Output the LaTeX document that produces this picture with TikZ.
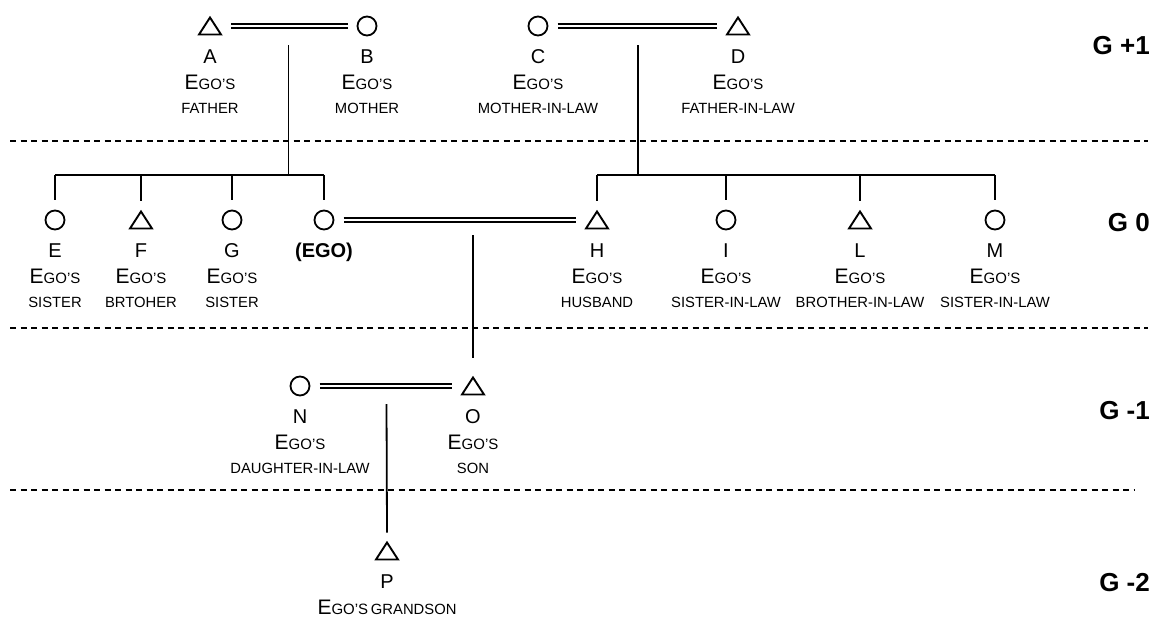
\documentclass[tikz,border=0pt]{standalone}
\usepackage{fontspec}
\setmainfont{Liberation Sans}
\usetikzlibrary{calc}

% "Ego's" written in small capitals
\newcommand\egotag{{\fontsize{21}{21}\selectfont E}{\fontsize{15}{15}\selectfont GO’S}}
\newcommand\relsc[1]{{\fontsize{14.8}{14.8}\selectfont #1}}

\tikzset{
  female/.style={circle, draw, line width=1.8pt, minimum size=19pt, inner sep=0pt, outer sep=0pt},
  male/.style={rectangle, minimum width=22pt, minimum height=17pt, inner sep=0pt, outer sep=0pt},
  maleshape/.style={line width=1.9pt, line join=miter},
  marriage/.style={double, double distance=2.6pt, line width=1.3pt, shorten <=10pt, shorten >=10pt},
  descent/.style={line width=1.8pt},
  genline/.style={line width=1.1pt, dash pattern=on 6pt off 4.5pt},
  idtext/.style={anchor=base, inner sep=0pt, font=\fontsize{20}{20}\selectfont},
  egotext/.style={anchor=base, inner sep=0pt},
  reltext/.style={anchor=base, inner sep=0pt, font=\fontsize{14.8}{14.8}\selectfont},
  gen/.style={anchor=base east, inner sep=0pt, font=\bfseries\fontsize{26}{26}\selectfont}
}

% letter, "Ego's" and relation below a person
\newcommand\kintags[3]{%
  \node[idtext]  (#1-id)  at ([yshift=-37pt]#1.center) {#2};
  \node[egotext] (#1-ego) at ([yshift=-63pt]#1.center) {\egotag};
  \node[reltext] (#1-rel) at ([yshift=-87pt]#1.center) {#3};
}

\begin{document}
\begin{tikzpicture}[x=1pt, y=-1pt]
\path[fill=white] (0,0) rectangle (1155,624);

% generation separators
\draw[genline] (10,141) -- (1148,141);
\draw[genline] (10,328) -- (1148,328);
\draw[genline] (10,490) -- (1135,490);

% generation labels
\node[gen] (g1)  at (1150,54.5)  {G +1};
\node[gen] (g0)  at (1150,231.5) {G 0};
\node[gen] (gm1) at (1150,419.5) {G -1};
\node[gen] (gm2) at (1150,591.5) {G -2};

% G +1
\node[male]   (A) at (210,26) {};
\node[female] (B) at (367,26) {};
\node[female] (C) at (538,26) {};
\node[male]   (D) at (738,26) {};

% G 0
\node[female] (E)   at (55,220)  {};
\node[male]   (F)   at (141,220) {};
\node[female] (G)   at (232,220) {};
\node[female] (EGO) at (324,220) {};
\node[male]   (H)   at (597,220) {};
\node[female] (I)   at (726,220) {};
\node[male]   (L)   at (860,220) {};
\node[female] (M)   at (995,220) {};

% G -1
\node[female] (N) at (300,386) {};
\node[male]   (O) at (473,386) {};

% G -2
\node[male]   (P) at (387,551) {};

% triangles for the male nodes
\foreach \n in {A,D,F,H,L,O,P}
  \draw[maleshape] (\n.south west) -- (\n.north) -- (\n.south east) -- cycle;

% marriages
\draw[marriage] (A) -- (B);
\draw[marriage] (C) -- (D);
\draw[marriage] (EGO) -- (H);
\draw[marriage] (N) -- (O);

% sibling bars
\coordinate (bar) at (0,175);
\draw[descent] (E |- bar) -- (EGO |- bar);
\draw[descent] (H |- bar) -- (M |- bar);
\foreach \n in {E,F,G,EGO,H,I,L,M}
  \draw[descent] (\n |- bar) -- ([yshift=11pt]\n.north);

% descent lines
\coordinate (ab) at ($(A)!0.5!(B)$);
\coordinate (cd) at ($(C)!0.5!(D)$);
\draw[descent] ([yshift=-19pt]ab) -- (ab |- bar);
\draw[descent] ([yshift=-19pt]cd) -- (cd |- bar);
\coordinate (eh) at (O |- EGO);
\draw[descent] ([yshift=-15pt]eh) -- ([yshift=20pt]O.north);
\coordinate (no) at ($(N)!0.5!(O)$);
\draw[descent] ([yshift=-18pt]no) -- ([yshift=10pt]P.north);

% labels
\kintags{A}{A}{FATHER}
\kintags{B}{B}{MOTHER}
\kintags{C}{C}{MOTHER-IN-LAW}
\kintags{D}{D}{FATHER-IN-LAW}
\kintags{E}{E}{SISTER}
\kintags{F}{F}{BRTOHER}
\kintags{G}{G}{SISTER}
\node[idtext, font=\bfseries\fontsize{20}{20}\selectfont] (EGO-id) at ([yshift=-37pt]EGO.center) {(EGO)};
\kintags{H}{H}{HUSBAND}
\kintags{I}{I}{SISTER-IN-LAW}
\kintags{L}{L}{BROTHER-IN-LAW}
\kintags{M}{M}{SISTER-IN-LAW}
\kintags{N}{N}{DAUGHTER-IN-LAW}
\kintags{O}{O}{SON}
\node[idtext]  (P-id)  at ([yshift=-37pt]P.center) {P};
\node[egotext] (P-ego) at ([yshift=-63pt]P.center) {\egotag{} \relsc{GRANDSON}};
\end{tikzpicture}
\end{document}
